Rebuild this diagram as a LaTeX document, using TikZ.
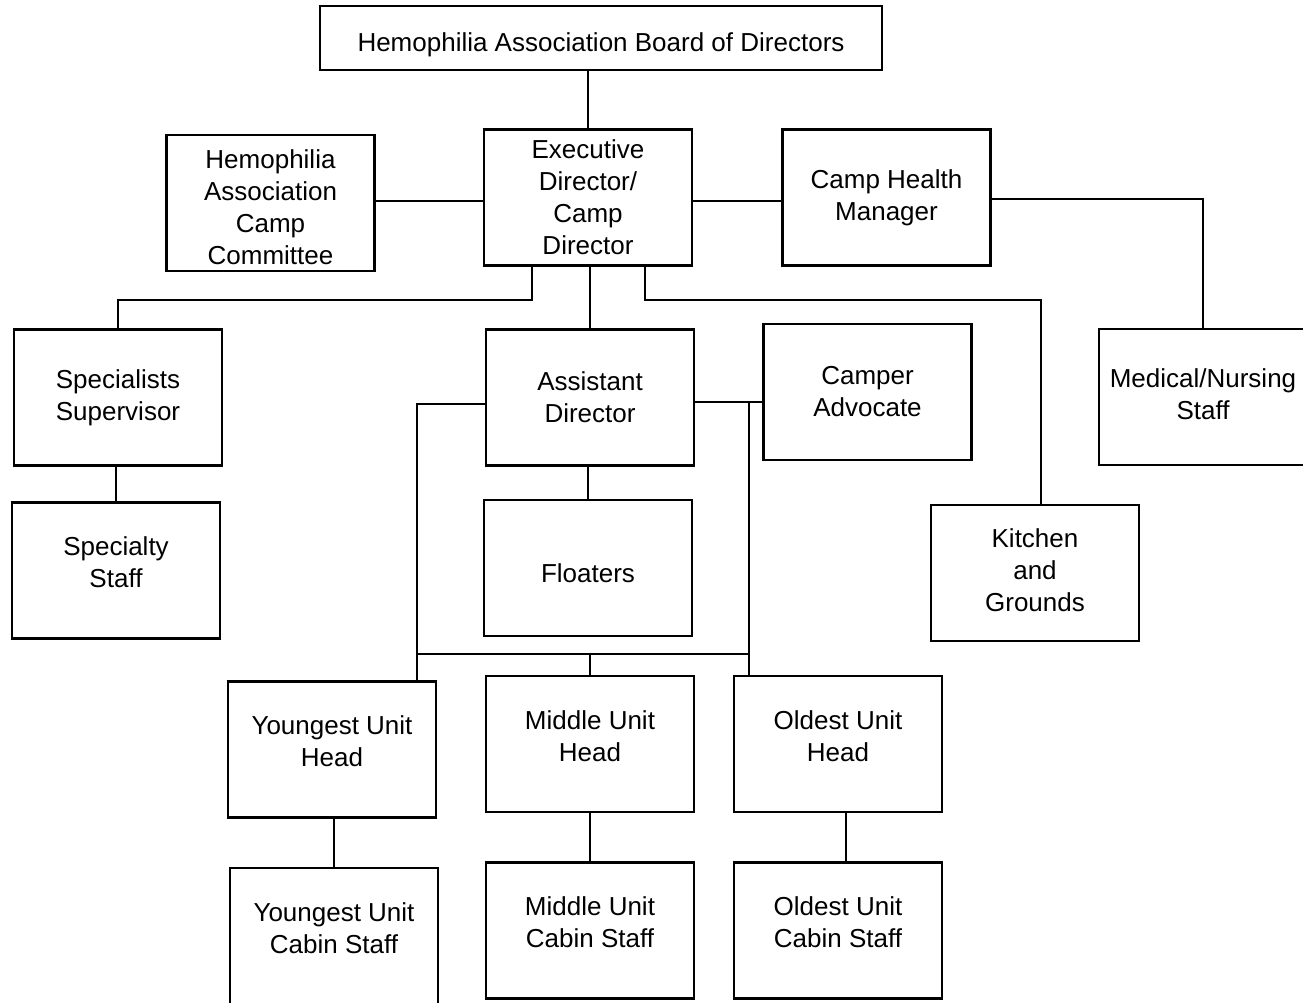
\documentclass[tikz,border=0pt]{standalone}
\usepackage{fontspec}
\setmainfont{Liberation Sans}
\usepackage{tikz}
\usetikzlibrary{positioning,calc}

\begin{document}
\begin{tikzpicture}[
    x=0.75pt, y=-0.75pt,
    box/.style={rectangle, draw, line width=1.6pt, minimum width=156pt, minimum height=102pt, align=center, font=\fontsize{19.5}{24}\selectfont},
    wide/.style={box, minimum width=421.5pt, minimum height=48pt},
    raised/.style={text depth=12pt},
    link/.style={line width=1.6pt}
]
    \useasboundingbox (0,0) rectangle (1303,1003);

    \node[wide, text height=24pt] (board) at (601,38) {Hemophilia Association Board of Directors};
    \node[box] (exec) at (588,197.5) {Executive\\Director/\\Camp\\Director};
    \node[box, text height=92pt] (committee) at (270.5,203) {Hemophilia\\Association\\Camp\\Committee};
    \node[box] (health) at (886.5,197.5) {Camp Health\\Manager};
    \node[box, text depth=4.5pt] (medical) at (1203,397) {Medical/Nursing\\Staff};
    \node[box] (specialists) at (118,397.5) {Specialists\\Supervisor};
    \node[box, raised] (specialty) at (116,570.5) {Specialty\\Staff};
    \node[box] (assistant) at (590,397.5) {Assistant\\Director};
    \node[box, text height=21.5pt] (floaters) at (588,568) {Floaters};
    \node[box] (advocate) at (867.5,392) {Camper\\Advocate};
    \node[box, text depth=4.5pt] (kitchen) at (1035,573) {Kitchen\\and\\Grounds};
    \node[box, raised] (younghead) at (332,749.5) {Youngest Unit\\Head};
    \node[box, raised] (midhead) at (590,744) {Middle Unit\\Head};
    \node[box, raised] (oldhead) at (838,744) {Oldest Unit\\Head};
    \node[box, raised] (youngcabin) at (334,936) {Youngest Unit\\Cabin Staff};
    \node[box, raised] (midcabin) at (590,930.5) {Middle Unit\\Cabin Staff};
    \node[box, raised] (oldcabin) at (838,930.5) {Oldest Unit\\Cabin Staff};

    \coordinate (execL) at ($(exec.south)+(-56,0)$);
    \coordinate (execR) at ($(exec.south)+(57,0)$);
    \coordinate (asstR) at ([yshift=-3.4pt]assistant.east);
    \coordinate (youngbus) at ([xshift=-15pt]younghead.north east);
    \coordinate (oldbus) at ([xshift=12pt]oldhead.north west);
    \coordinate (bus) at ($(midhead.north)+(0,-21)$);

    \draw[link] (exec.north) -- (exec.north |- board.south);
    \draw[link] ([yshift=-2.6pt]exec.west) -- ([yshift=-2.6pt]exec.west -| committee.east);
    \draw[link] ([yshift=-2.6pt]exec.east) -- ([yshift=-2.6pt]exec.east -| health.west);
    \draw[link] ([yshift=-1.2pt]health.east) -| (medical.north);
    \draw[link] (execL) -- ++(0,33) -| (specialists.north);
    \draw[link] (assistant.north) -- (assistant.north |- exec.south);
    \draw[link] (execR) -- ++(0,33) -| ([xshift=4.5pt]kitchen.north);
    \draw[link] (specialty.north) -- (specialty.north |- specialists.south);
    \draw[link] (floaters.north) -- (floaters.north |- assistant.south);
    \draw[link] (asstR) -- (asstR -| advocate.west);
    \draw[link] ([yshift=-4.9pt]assistant.west) -| (youngbus);
    \draw[link] (oldbus) -- (oldbus |- asstR);
    \draw[link] (bus -| youngbus) -- (bus -| oldbus);
    \draw[link] (bus) -- (midhead.north);
    \draw[link] (youngcabin.north) -- (youngcabin.north |- younghead.south);
    \draw[link] (midcabin.north) -- (midcabin.north |- midhead.south);
    \draw[link] ([xshift=6pt]oldcabin.north) -- ([xshift=6pt]oldcabin.north |- oldhead.south);
\end{tikzpicture}
\end{document}
